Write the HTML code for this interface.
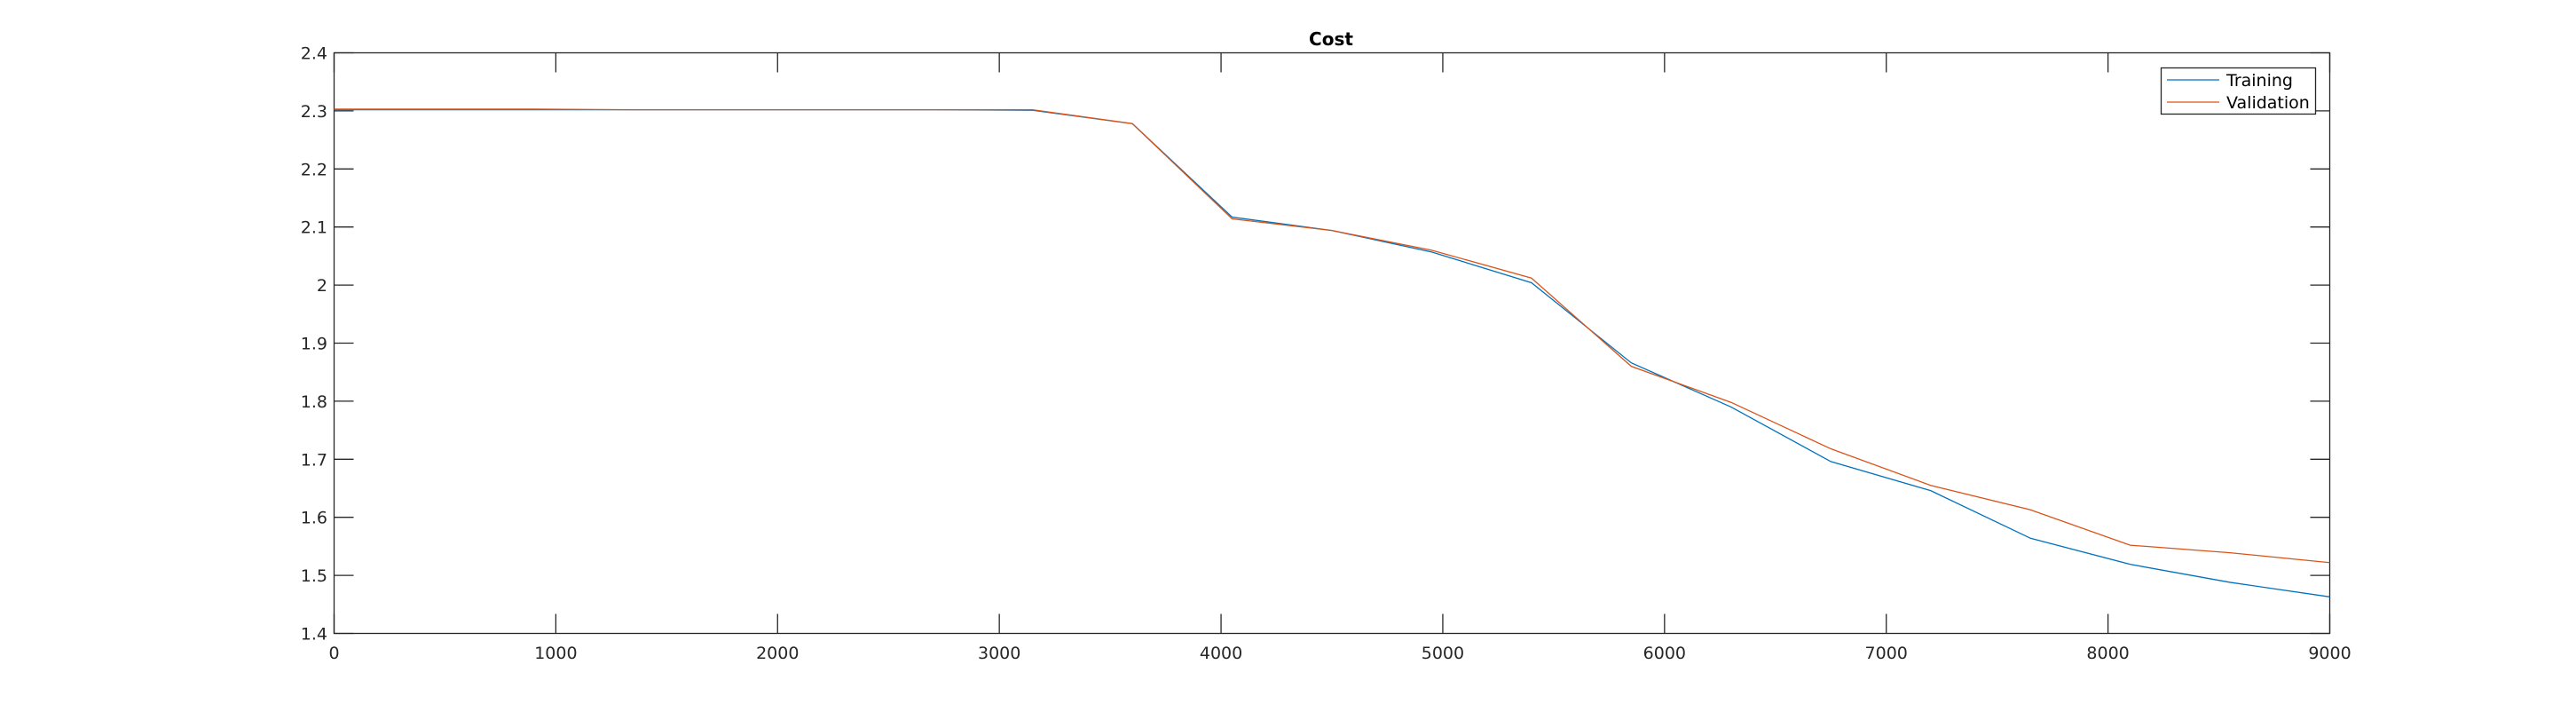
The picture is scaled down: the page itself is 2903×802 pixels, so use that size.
<!DOCTYPE html>
<html><head><meta charset="utf-8"><style>
html,body{margin:0;padding:0;background:#fff;}
svg{display:block;font-family:"DejaVu Sans","Liberation Sans",sans-serif;}
</style></head><body>
<svg id="chart" width="2903" height="802" viewBox="0 0 2903 802" xmlns="http://www.w3.org/2000/svg">
<rect width="2903" height="802" fill="#fff"/>
<text x="1500" y="51" font-size="20" font-weight="bold" text-anchor="middle" fill="#000">Cost</text>
<g id="axes"></g>
<g id="series"></g>
<g>
<rect x="2435.5" y="76.5" width="174" height="52" fill="#fff" stroke="#262626" stroke-width="1.3"/>
<line x1="2442" y1="90" x2="2501" y2="90" stroke="#0072bd" stroke-width="1.2"/>
<text x="2509" y="97" font-size="19" fill="#000">Training</text>
<line x1="2442" y1="115" x2="2501" y2="115" stroke="#d95319" stroke-width="1.2"/>
<text x="2509" y="122" font-size="19" fill="#000">Validation</text>
</g>
</svg>
<script>
const iterations = [0,450,900,1350,1800,2250,2700,3150,3600,4050,4500,4950,5400,5850,6300,6750,7200,7650,8100,8550,9000];
const trainingCost = [2.302,2.302,2.302,2.302,2.302,2.302,2.302,2.301,2.278,2.117,2.094,2.057,2.004,1.866,1.790,1.696,1.646,1.564,1.519,1.488,1.463];
const validationCost = [2.303,2.303,2.303,2.302,2.302,2.302,2.302,2.302,2.278,2.114,2.094,2.060,2.012,1.860,1.798,1.718,1.655,1.613,1.552,1.539,1.522];
const xTicks = [0,1000,2000,3000,4000,5000,6000,7000,8000,9000];
const yTicks = [1.4,1.5,1.6,1.7,1.8,1.9,2.0,2.1,2.2,2.3,2.4];
const yTickLabels = ["1.4","1.5","1.6","1.7","1.8","1.9","2","2.1","2.2","2.3","2.4"];

const L=376.5,R=2625.5,T=59.5,B=713.5;
const xMin=0,xMax=9000,yMin=1.4,yMax=2.4;
function xs(v){return L+(v-xMin)/(xMax-xMin)*(R-L);}
function ys(v){return B-(v-yMin)/(yMax-yMin)*(B-T);}
const NS="http://www.w3.org/2000/svg";
function mk(tag,attrs,parent){const e=document.createElementNS(NS,tag);for(const k in attrs)e.setAttribute(k,attrs[k]);parent.appendChild(e);return e;}
const axes=document.getElementById('axes');
const box=mk('rect',{x:L,y:T,width:R-L,height:B-T,fill:'none',stroke:'#262626','stroke-width':1.3},axes);


xTicks.forEach((v,i)=>{
  const x=xs(v);
  const t1=mk('line',{x1:x,y1:B,x2:x,y2:B-22,stroke:'#262626','stroke-width':1.3},axes);
  
  
  const t2=mk('line',{x1:x,y1:T,x2:x,y2:T+22,stroke:'#262626','stroke-width':1.3},axes);
  
  
  const tx=mk('text',{x:x,y:742,'font-size':19,'text-anchor':'middle',fill:'#262626'},axes);
  tx.textContent=String(v);
  
  
});
yTicks.forEach((v,i)=>{
  const y=ys(v);
  const t1=mk('line',{x1:L,y1:y,x2:L+22,y2:y,stroke:'#262626','stroke-width':1.3},axes);
  
  
  const t2=mk('line',{x1:R,y1:y,x2:R-22,y2:y,stroke:'#262626','stroke-width':1.3},axes);
  
  
  const tx=mk('text',{x:369,y:y+7,'font-size':19,'text-anchor':'end',fill:'#262626'},axes);
  tx.textContent=yTickLabels[i];
  
  
});
const series=document.getElementById('series');
function pts(arr){return iterations.map((v,i)=>xs(v).toFixed(2)+','+ys(arr[i]).toFixed(2)).join(' ');}
const tr=mk('polyline',{points:pts(trainingCost),fill:'none',stroke:'#0072bd','stroke-width':1.3},series);


const va=mk('polyline',{points:pts(validationCost),fill:'none',stroke:'#d95319','stroke-width':1.3},series);


</script>
</body></html>
